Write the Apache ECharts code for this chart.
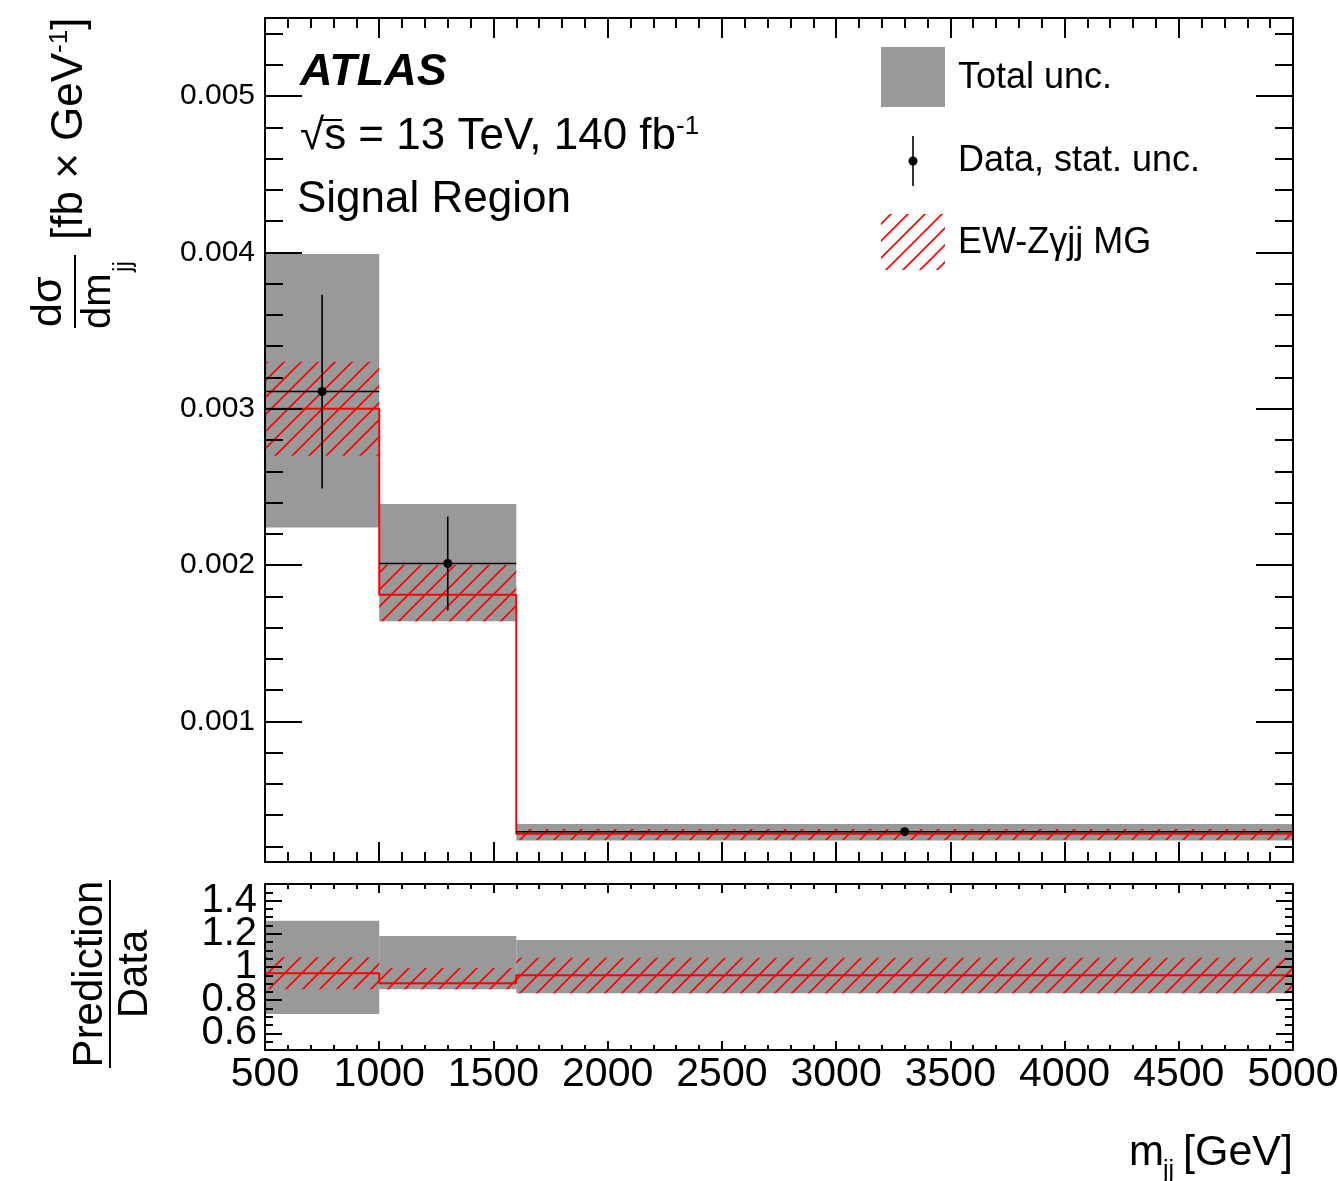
<!DOCTYPE html>
<html>
<head>
<meta charset="utf-8">
<title>EW-Zyjj mjj</title>
<script src="https://cdn.jsdelivr.net/npm/echarts@6/dist/echarts.min.js"></script>
<style>
html, body { margin: 0; padding: 0; background: #fff; }
#chart { width: 1338px; height: 1181px; }
</style>
</head>
<body>
<div id="chart"></div>
<script type="text/javascript">
// bin edges, m_jj [GeV]
var binEdges = [500, 1000, 1600, 5000];

// upper panel: dsigma/dmjj [fb / GeV]
var dataVal = [0.00311, 0.00201, 0.000294];
var statLo  = [0.00249, 0.00171, 0.000283];
var statHi  = [0.00373, 0.00231, 0.000305];
var totLo   = [0.00224, 0.00164, 0.000237];
var totHi   = [0.00399, 0.00239, 0.000343];
var predVal = [0.00300, 0.00181, 0.000281];
var predLo  = [0.00270, 0.00164, 0.000241];
var predHi  = [0.00330, 0.00200, 0.000311];

// lower panel: prediction / data
var ratioTotLo  = [0.717, 0.866, 0.842];
var ratioTotHi  = [1.279, 1.187, 1.163];
var ratioPred   = [0.962, 0.902, 0.951];
var ratioPredLo = [0.866, 0.866, 0.842];
var ratioPredHi = [1.059, 0.994, 1.056];

var FONT = '"Liberation Sans", Arial, Helvetica, sans-serif';
var GREY = '#999999';
var RED = '#ff0000';

function hatchCanvas() {
    var s = 17;
    var c = document.createElement('canvas');
    c.width = s; c.height = s;
    var ctx = c.getContext('2d');
    ctx.strokeStyle = RED;
    ctx.lineWidth = 1.6;
    ctx.beginPath();
    ctx.moveTo(-2, s + 2); ctx.lineTo(s + 2, -2);
    ctx.moveTo(-2, 2); ctx.lineTo(2, -2);
    ctx.moveTo(s - 2, s + 2); ctx.lineTo(s + 2, s - 2);
    ctx.stroke();
    return c;
}
var hatch = { image: hatchCanvas(), repeat: 'repeat' };

function bands(lo, hi) {
    return lo.map(function (v, i) { return [binEdges[i], binEdges[i + 1], v, hi[i]]; });
}
function steps(vals) {
    var out = [];
    vals.forEach(function (v, i) { out.push([binEdges[i], v], [binEdges[i + 1], v]); });
    return out;
}
var points = dataVal.map(function (v, i) {
    return [(binEdges[i] + binEdges[i + 1]) / 2, v, statLo[i], statHi[i], binEdges[i], binEdges[i + 1]];
});

function bandRender(fill) {
    return function (params, api) {
        var p0 = api.coord([api.value(0), api.value(3)]);
        var p1 = api.coord([api.value(1), api.value(2)]);
        return {
            type: 'rect',
            shape: { x: p0[0], y: p0[1], width: p1[0] - p0[0], height: p1[1] - p0[1] },
            style: { fill: fill }
        };
    };
}
function pointRender(params, api) {
    var c = api.coord([api.value(0), api.value(1)]);
    var lo = api.coord([api.value(0), api.value(2)]);
    var hi = api.coord([api.value(0), api.value(3)]);
    var l = api.coord([api.value(4), api.value(1)]);
    var r = api.coord([api.value(5), api.value(1)]);
    return {
        type: 'group',
        children: [
            { type: 'line', shape: { x1: l[0], y1: l[1], x2: r[0], y2: r[1] }, style: { stroke: '#000', lineWidth: 1.6 } },
            { type: 'line', shape: { x1: lo[0], y1: lo[1], x2: hi[0], y2: hi[1] }, style: { stroke: '#000', lineWidth: 1.6 } },
            { type: 'circle', shape: { cx: c[0], cy: c[1], r: 4.5 }, style: { fill: '#000' } }
        ]
    };
}

function xAx(grid, pos, major, minor, label) {
    return {
        type: 'value', gridIndex: grid, position: pos, min: 500, max: 5000, interval: 500, z: 10,
        axisLine: { show: true, onZero: false, lineStyle: { color: '#000', width: 2 } },
        axisTick: { show: true, inside: true, length: major, lineStyle: { color: '#000', width: 2 } },
        minorTick: { show: true, splitNumber: 5, length: minor, lineStyle: { color: '#000', width: 2 } },
        splitLine: { show: false }, minorSplitLine: { show: false },
        axisLabel: label ? {
            show: true, color: '#000', fontSize: 41, fontFamily: FONT, margin: 4,
            formatter: function (v) { return String(v); }
        } : { show: false }
    };
}
function yAx(grid, pos, min, max, minorSplit, major, minor, label) {
    return {
        type: 'value', gridIndex: grid, position: pos, min: min, max: max, splitNumber: 5, z: 10,
        axisLine: { show: true, onZero: false, lineStyle: { color: '#000', width: 2 } },
        axisTick: { show: true, inside: true, length: major, lineStyle: { color: '#000', width: 2 } },
        minorTick: { show: true, splitNumber: minorSplit, length: minor, lineStyle: { color: '#000', width: 2 } },
        splitLine: { show: false }, minorSplitLine: { show: false },
        axisLabel: label ? {
            show: true, color: '#000', fontFamily: FONT, fontSize: label.size, margin: label.margin,
            showMinLabel: false, showMaxLabel: false
        } : { show: false }
    };
}

var chart = echarts.init(document.getElementById('chart'));

var option = {
    backgroundColor: '#fff',
    animation: false,
    grid: [
        { left: 265, top: 18, width: 1028, height: 844, outerBoundsMode: 'none', containLabel: false },
        { left: 265, top: 884, width: 1028, height: 166, outerBoundsMode: 'none', containLabel: false }
    ],
    xAxis: [
        xAx(0, 'bottom', 20, 10, false),
        xAx(0, 'top', 20, 10, false),
        xAx(1, 'bottom', 9, 5, true),
        xAx(1, 'top', 9, 5, false)
    ],
    yAxis: [
        yAx(0, 'left', 0.0001, 0.0055, 5, 37, 18, { size: 30, margin: 10 }),
        yAx(0, 'right', 0.0001, 0.0055, 5, 37, 18, null),
        yAx(1, 'left', 0.5, 1.5, 4, 17, 8, { size: 40, margin: 8 }),
        yAx(1, 'right', 0.5, 1.5, 4, 17, 8, null)
    ],
    series: [
        { type: 'custom', xAxisIndex: 0, yAxisIndex: 0, z: 2, data: bands(totLo, totHi), renderItem: bandRender(GREY) },
        { type: 'custom', xAxisIndex: 0, yAxisIndex: 0, z: 3, data: bands(predLo, predHi), renderItem: bandRender(hatch) },
        { type: 'line', xAxisIndex: 0, yAxisIndex: 0, z: 4, data: steps(predVal), showSymbol: false,
          lineStyle: { color: RED, width: 2 } },
        { type: 'custom', xAxisIndex: 0, yAxisIndex: 0, z: 5, data: points, renderItem: pointRender },

        { type: 'custom', xAxisIndex: 2, yAxisIndex: 2, z: 2, data: bands(ratioTotLo, ratioTotHi), renderItem: bandRender(GREY) },
        { type: 'custom', xAxisIndex: 2, yAxisIndex: 2, z: 3, data: bands(ratioPredLo, ratioPredHi), renderItem: bandRender(hatch) },
        { type: 'line', xAxisIndex: 2, yAxisIndex: 2, z: 4, data: steps(ratioPred), showSymbol: false,
          lineStyle: { color: RED, width: 2 } }
    ],
    graphic: [
        // labels in the upper panel
        { type: 'text', x: 300, y: 73, style: { text: 'ATLAS', fill: '#000', font: 'italic bold 45px ' + FONT, verticalAlign: 'middle' } },
        { type: 'text', x: 300, y: 137, style: {
            text: '{a|√s = 13 TeV, 140 fb}{s|-1}', verticalAlign: 'middle',
            rich: { a: { fontSize: 44, fontFamily: FONT, fill: '#000', lineHeight: 46 },
                    s: { fontSize: 26, fontFamily: FONT, fill: '#000', verticalAlign: 'top', lineHeight: 26 } } } },
        { type: 'rect', shape: { x: 320, y: 120, width: 22, height: 0 }, style: { stroke: '#000', lineWidth: 2 } },
        { type: 'text', x: 297, y: 200, style: { text: 'Signal Region', fill: '#000', font: '44px ' + FONT, verticalAlign: 'middle' } },

        // legend
        { type: 'rect', shape: { x: 881, y: 47, width: 64, height: 60 }, style: { fill: GREY } },
        { type: 'text', x: 958, y: 78, style: { text: 'Total unc.', fill: '#000', font: '36px ' + FONT, verticalAlign: 'middle' } },
        { type: 'line', shape: { x1: 913, y1: 136, x2: 913, y2: 186 }, style: { stroke: '#000', lineWidth: 1.6 } },
        { type: 'circle', shape: { cx: 913, cy: 161, r: 4.5 }, style: { fill: '#000' } },
        { type: 'text', x: 958, y: 161, style: { text: 'Data, stat. unc.', fill: '#000', font: '36px ' + FONT, verticalAlign: 'middle' } },
        { type: 'rect', shape: { x: 881, y: 214, width: 64, height: 56 }, style: { fill: hatch } },
        { type: 'text', x: 958, y: 243, style: { text: 'EW-Zγjj MG', fill: '#000', font: '36px ' + FONT, verticalAlign: 'middle' } },

        // y title, upper panel
        { type: 'group', x: 75, y: 330, rotation: Math.PI / 2, children: [
            { type: 'line', shape: { x1: 2, y1: 0, x2: 75, y2: 0 }, style: { stroke: '#000', lineWidth: 2 } },
            { type: 'text', x: 3, y: -4, style: { text: 'dσ', fill: '#000', font: '43px ' + FONT, verticalAlign: 'bottom' } },
            { type: 'text', x: 1, y: 24, style: { text: 'dm', fill: '#000', font: '40px ' + FONT, verticalAlign: 'middle' } },
            { type: 'text', x: 58, y: 49, style: { text: 'jj', fill: '#000', font: '25px ' + FONT, verticalAlign: 'middle' } },
            { type: 'text', x: 90, y: -5, style: {
                text: '{a|[fb × GeV}{s|-1}{a|]}', verticalAlign: 'middle',
                rich: { a: { fontSize: 44, fontFamily: FONT, fill: '#000', lineHeight: 46 },
                        s: { fontSize: 26, fontFamily: FONT, fill: '#000', verticalAlign: 'top', lineHeight: 26 } } } }
        ] },

        // y title, ratio panel
        { type: 'group', x: 110, y: 1068, rotation: Math.PI / 2, children: [
            { type: 'line', shape: { x1: 0, y1: 0, x2: 188, y2: 0 }, style: { stroke: '#000', lineWidth: 2 } },
            { type: 'text', x: 94, y: -20, style: { text: 'Prediction', fill: '#000', font: '42px ' + FONT, align: 'center', verticalAlign: 'middle' } },
            { type: 'text', x: 94, y: 25, style: { text: 'Data', fill: '#000', font: '42px ' + FONT, align: 'center', verticalAlign: 'middle' } }
        ] },

        // x title
        { type: 'text', x: 1129, y: 1153, style: { text: 'm', fill: '#000', font: '42px ' + FONT, verticalAlign: 'middle' } },
        { type: 'text', x: 1163, y: 1171, style: { text: 'jj', fill: '#000', font: '25px ' + FONT, verticalAlign: 'middle' } },
        { type: 'text', x: 1293, y: 1153, style: { text: '[GeV]', fill: '#000', font: '43px ' + FONT, align: 'right', verticalAlign: 'middle' } }
    ]
};

chart.setOption(option);
</script>
</body>
</html>
